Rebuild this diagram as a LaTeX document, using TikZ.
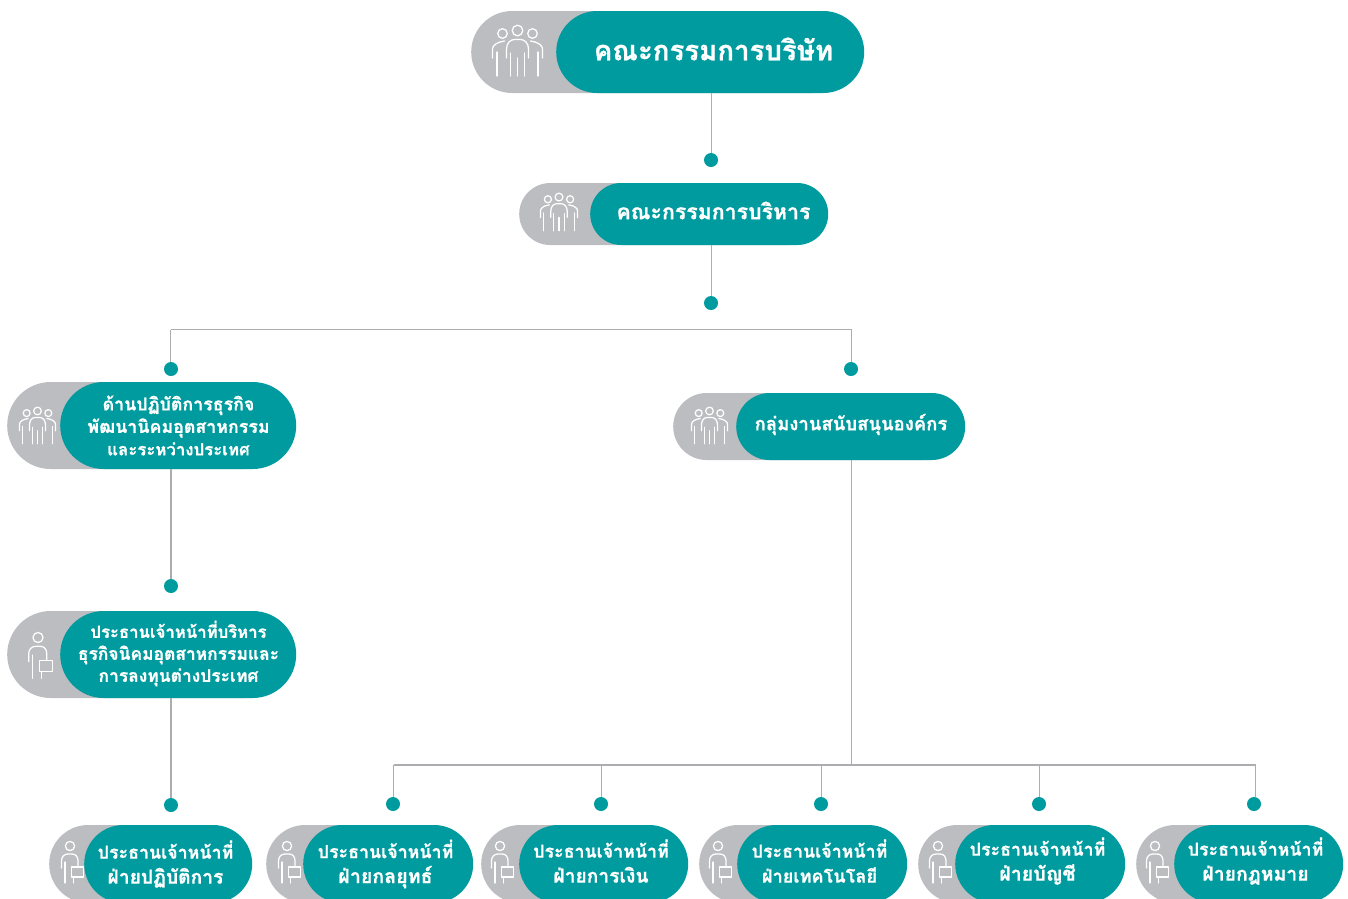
\documentclass[tikz,border=0pt]{standalone}
\usepackage{fontspec}
\newfontfamily\thaifont[Script=Thai,BoldFeatures={FakeBold=0.7}]{Loma}
\definecolor{tealc}{RGB}{0,155,158}
\definecolor{greyc}{RGB}{188,189,193}
\definecolor{linec}{RGB}{172,173,176}
\newcommand{\fsz}[1]{\fontsize{#1}{25}\selectfont}
\tikzset{
  x=1pt,y=-1pt,
  conn/.style={draw=linec,line width=1.25pt},
  dotnode/.style={circle,fill=tealc,draw=none,minimum size=14pt,inner sep=0pt},
  pilltext/.style={text=white,align=center,inner sep=0pt,font=\thaifont\bfseries},
  iconline/.style={draw=white,line width=#1,line cap=round,line join=round},
  groupicon/.pic={
    \begin{scope}[iconline=1.25pt]
    \draw (0,5.5) circle[radius=5.3];
    \draw (-15,8.5) circle[radius=4.8];
    \draw (15,8.5) circle[radius=4.8];
    \draw (-11,33) -- (-11,24) .. controls (-11,18) and (-7,14.5) .. (-3,14.5) -- (3,14.5) .. controls (7,14.5) and (11,18) .. (11,24) -- (11,33);
    \draw (-7,51) -- (-7,28);
    \draw (7,51) -- (7,28);
    \draw (0,51) -- (0,33);
    \draw (-25,33) -- (-25,24) .. controls (-25,20) and (-20,17) .. (-13,16);
    \draw (25,33) -- (25,24) .. controls (25,20) and (20,17) .. (13,16);
    \draw (-20.5,51) -- (-20.5,27);
    \draw (20.5,51) -- (20.5,27);
    \end{scope}
  },
  personicon/.pic={
    \begin{scope}[iconline=1.25pt]
    \draw (0,5) circle[radius=4.6];
    \draw (-8.5,27) -- (-8.5,20) .. controls (-8.5,16) and (-6,13) .. (-2,13) -- (2,13) .. controls (6,13) and (8,16) .. (8,20) -- (8,26);
    \draw (-5,42) -- (-5,21);
    \draw (1.5,26) rectangle (13.5,36);
    \draw (3.5,36) -- (3.5,42);
    \end{scope}
  }
}
% \pillshape{name}{greyleft}{tealleft}{tealright}{top}{bottom}
\newcommand{\pillshape}[6]{%
  \pgfmathsetmacro{\pillh}{#6-#5}%
  \pgfmathsetmacro{\pillr}{\pillh/2}%
  \node[fill=greyc,rounded corners=\pillr pt,inner sep=0pt,minimum height=\pillh pt,minimum width={(#4-10-#2)*1pt},anchor=west] (#1back) at (#2,{(#5+#6)/2}) {};
  \node[fill=tealc,rounded corners=\pillr pt,inner sep=0pt,minimum height=\pillh pt,minimum width={(#4-#3)*1pt},anchor=west] (#1) at (#3,{(#5+#6)/2}) {};
}
\begin{document}
\begin{tikzpicture}
\useasboundingbox (0,0) rectangle (1348,898);

\pillshape{board}{471}{556}{864}{11}{93}
\pillshape{exec}{519}{590}{828}{183}{245}
\pillshape{ops}{7}{60}{296}{382}{469}
\pillshape{support}{673}{736}{965}{393}{460}
\pillshape{ceo}{7}{60}{296}{611}{698}
\pillshape{cOne}{49}{84}{252}{825}{903}
\pillshape{cTwo}{266}{303}{473}{825}{903}
\pillshape{cThree}{481}{519}{688}{825}{903}
\pillshape{cFour}{699}{737}{907}{825}{903}
\pillshape{cFive}{918}{955}{1125}{825}{903}
\pillshape{cSix}{1136}{1174}{1343}{825}{903}

\pic[scale=1] at (517.5,25) {groupicon};
\pic[scale=0.74] at (559,193) {groupicon};
\pic[scale=0.72] at (37.5,407) {groupicon};
\pic[scale=0.72] at (709.5,407) {groupicon};
\pic[scale=1.1] at (38,632) {personicon};
\pic at (70,841) {personicon};
\pic at (287,841) {personicon};
\pic at (500,841) {personicon};
\pic at (718,841) {personicon};
\pic at (938,841) {personicon};
\pic at (1155,841) {personicon};

\node[pilltext,font=\thaifont\bfseries\fontsize{27.6}{30}\selectfont] (tBoard) at (713.5,49) {คณะกรรมการบริษัท};
\node[pilltext,font=\thaifont\bfseries\fontsize{21.3}{24}\selectfont] (tExec) at (713.5,210.5) {คณะกรรมการบริหาร};
\node[pilltext,font=\thaifont\bfseries\fontsize{17.8}{22.5}\selectfont] (tOps) at (178.5,425.5) {ด้านปฏิบัติการธุรกิจ\\พัฒนานิคมอุตสาหกรรม\\{\fontsize{16.8}{22.5}\selectfont และระหว่างประเทศ}};
\node[pilltext,font=\thaifont\bfseries\fontsize{18.5}{22}\selectfont] (tSup) at (851,424.5) {กลุ่มงานสนับสนุนองค์กร};
\node[pilltext,font=\thaifont\bfseries\fontsize{17.4}{22}\selectfont] (tCeo) at (178.5,653.5) {{\fontsize{16.7}{22}\selectfont ประธานเจ้าหน้าที่บริหาร}\\ธุรกิจนิคมอุตสาหกรรมและ\\การลงทุนต่างประเทศ};
\node[pilltext,font=\thaifont\bfseries\fontsize{17.8}{25}\selectfont] (tOne) at (165.5,864) {ประธานเจ้าหน้าที่\\{\fsz{19.2}ฝ่ายปฏิบัติการ}};
\node[pilltext,font=\thaifont\bfseries\fontsize{17.8}{25}\selectfont] (tTwo) at (385.5,864) {ประธานเจ้าหน้าที่\\{\fsz{19.6}ฝ่ายกลยุทธ์}};
\node[pilltext,font=\thaifont\bfseries\fontsize{17.8}{25}\selectfont] (tThree) at (601,861) {ประธานเจ้าหน้าที่\\{\fsz{19.2}ฝ่ายการเงิน}};
\node[pilltext,font=\thaifont\bfseries\fontsize{17.8}{25}\selectfont] (tFour) at (819.5,861) {ประธานเจ้าหน้าที่\\{\fsz{18.1}ฝ่ายเทคโนโลยี}};
\node[pilltext,font=\thaifont\bfseries\fontsize{17.8}{25}\selectfont] (tFive) at (1037.5,861) {ประธานเจ้าหน้าที่\\{\fsz{19.6}ฝ่ายบัญชี}};
\node[pilltext,font=\thaifont\bfseries\fontsize{17.8}{25}\selectfont] (tSix) at (1255.5,861) {ประธานเจ้าหน้าที่\\{\fsz{19.4}ฝ่ายกฎหมาย}};

\coordinate (jLeft) at (170.5,329.5);
\coordinate (jRight) at (851.5,329.5);
\coordinate (jBot) at (851.5,765);
\coordinate (jB1) at (393.5,765);
\coordinate (jB2) at (601.5,765);
\coordinate (jB3) at (821.5,765);
\coordinate (jB4) at (1039.5,765);
\coordinate (jB5) at (1255.5,765);
\coordinate (jBoard) at (711.5,93);
\coordinate (jExec) at (711.5,245);
\coordinate (jOps) at (171,469);
\coordinate (jCeo) at (171,698);

\draw[conn] (jLeft) -- (jRight);
\draw[conn] (jB1) -- (jB5);

\node[dotnode] (d1) at (711,160) {};
\node[dotnode] (d2) at (711,303) {};
\node[dotnode] (d3) at (171,369) {};
\node[dotnode] (d4) at (851,369) {};
\node[dotnode] (d5) at (171,586) {};
\node[dotnode] (d6) at (171,805) {};
\node[dotnode] (e1) at (393,804) {};
\node[dotnode] (e2) at (601,804) {};
\node[dotnode] (e3) at (821,804) {};
\node[dotnode] (e4) at (1039,804) {};
\node[dotnode] (e5) at (1254,804) {};

\draw[conn] (jBoard) -- (jBoard |- d1.north);
\draw[conn] (jExec) -- (jExec |- d2.north);
\draw[conn] (jLeft) -- (jLeft |- d3.north);
\draw[conn] (jRight) -- (jRight |- d4.north);
\draw[conn] (jOps) -- (jOps |- d5.north);
\draw[conn] (jCeo) -- (jCeo |- d6.north);
\draw[conn] (support.south -| jBot) -- (jBot);
\draw[conn] (jB1) -- (jB1 |- e1.north);
\draw[conn] (jB2) -- (jB2 |- e2.north);
\draw[conn] (jB3) -- (jB3 |- e3.north);
\draw[conn] (jB4) -- (jB4 |- e4.north);
\draw[conn] (jB5) -- (jB5 |- e5.north);
\end{tikzpicture}
\end{document}
